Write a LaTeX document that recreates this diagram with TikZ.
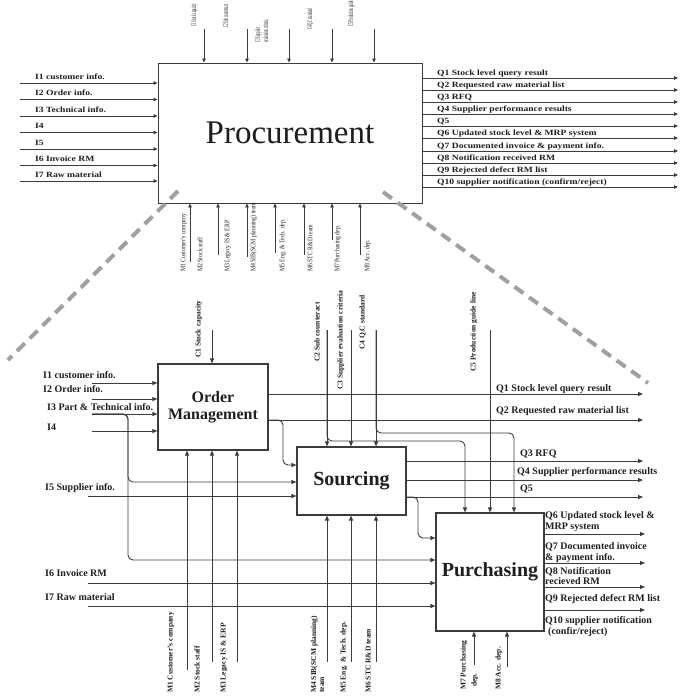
\documentclass[tikz,border=0pt]{standalone}
\usepackage{fontspec}
\setmainfont{Liberation Serif}
\newfontfamily\wideserif[FakeStretch=1.2]{Liberation Serif}
\newfontfamily\narrowserif[FakeStretch=0.42]{Liberation Serif}
\newfontfamily\slimserif[FakeStretch=0.83]{Liberation Serif}
\usetikzlibrary{arrows.meta,calc}
\definecolor{lc}{HTML}{3C3C3C}
\definecolor{tc}{HTML}{1E1E1E}
\definecolor{dg}{HTML}{A0A0A0}
\tikzset{
  ln/.style={draw=lc, line width=0.9pt},
  arr/.style={ln, -{Triangle[length=5pt,width=4pt]}},
  tarr/.style={draw=lc, line width=0.8pt, -{Triangle[length=4pt,width=3.5pt]}},
  bendarr/.style={arr, rounded corners=5pt},
  procbox/.style={draw=lc, line width=0.9pt, minimum width=264pt, minimum height=140pt, inner sep=0pt, text=tc, font=\fontsize{33}{36}\selectfont},
  subbox/.style={draw=lc, line width=1.1pt, inner sep=0pt, text=tc, align=center},
  tlab/.style={anchor=base west, inner sep=0pt, text=tc, font=\wideserif\bfseries\fontsize{8}{9}\selectfont},
  tctl/.style={rotate=90, anchor=base west, inner sep=0pt, text=tc, font=\narrowserif\fontsize{7.5}{8}\selectfont},
  tmech/.style={rotate=90, anchor=base west, inner sep=0pt, text=tc, font=\slimserif\fontsize{7}{8}\selectfont},
  lab/.style={anchor=base west, inner sep=0pt, text=tc, font=\bfseries\fontsize{10}{11}\selectfont},
  vlab/.style={rotate=90, anchor=base west, inner sep=0pt, text=tc, font=\bfseries\fontsize{7.5}{8}\selectfont},
  dashline/.style={draw=dg, line width=4pt, dash pattern=on 11pt off 7pt},
}
\begin{document}
\begin{tikzpicture}[x=1pt,y=-1pt]
\path[use as bounding box] (0,0) rectangle (680,697);

% ---------------- Context level: Procurement ----------------
\node[procbox] (proc) at (290,133) {Procurement};

% inputs
\foreach \y/\t [count=\i] in {83/{I1 customer info.},99.5/{I2 Order info.},116/{I3 Technical info.},132.5/{I4},149/{I5},165.5/{I6 Invoice RM},181/{I7 Raw material}} {
  \coordinate (tin\i) at (20,\y);
  \draw[tarr] (tin\i) -- (tin\i -| proc.west);
  \node[tlab] (tinl\i) at (35,\y-4) {\t};
}

% outputs
\foreach \y/\t [count=\i] in {78/{Q1 Stock level query result},90/{Q2 Requested raw material list},102/{Q3 RFQ},114/{Q4 Supplier performance results},126/{Q5},138/{Q6 Updated stock level \& MRP system},151/{Q7 Documented invoice \& payment info.},163/{Q8 Notification received RM},175/{Q9 Rejected defect RM list},187/{Q10 supplier notification (confirm/reject)}} {
  \coordinate (tq\i) at (678,\y);
  \draw[tarr] (tq\i -| proc.east) -- (tq\i);
  \node[tlab] (tql\i) at (437,\y-3) {\t};
}

% controls
\foreach \x [count=\i] in {204,247,289,332,374} {
  \coordinate (tc\i) at (\x,29);
  \draw[tarr] (tc\i) -- (tc\i |- proc.north);
}
\node[tctl] (tcl1) at (196,27) {C1 Stock capacity};
\node[tctl] (tcl2) at (228,28) {C2 Sub counteract};
\node[tctl] (tcl3a) at (260,43) {C3 Supplier};
\node[tctl] (tcl3b) at (268,43) {evaluation criteria};
\node[tctl] (tcl4) at (312,30) {C4 Q.C standard};
\node[tctl] (tcl5) at (353,27) {C5 Production guide};

% mechanisms
\foreach \x/\yb [count=\i] in {190/262,218/255,247/257,275/253,304/255,332/240,360/255} {
  \coordinate (tm\i) at (\x,\yb);
  \draw[tarr] (tm\i) -- (tm\i |- proc.south);
}
\foreach \x/\t [count=\i] in {185.3/{M1 Customer's company},202.3/{M2 Stock staff},229.3/{M3 Legacy IS \& ERP},255.3/{M4 SIB(SCM planning) team},284.3/{M5 Eng. \& Tech. dep.},312.3/{M6 STC R\&D team},339.3/{M7 Purchasing dep.},369.3/{M8 Acc. dep.}} {
  \node[tmech] (tml\i) at (\x,272) {\t};
}

% ---------------- Decomposition ----------------
\node[subbox, minimum width=110pt, minimum height=86pt, font=\bfseries\fontsize{16}{17}\selectfont] (om) at (213,407) {Order\\Management};
\node[subbox, minimum width=109pt, minimum height=68pt, font=\bfseries\fontsize{20}{22}\selectfont] (src) at (351.5,481) {Sourcing};
\node[subbox, minimum width=108pt, minimum height=118pt, font=\bfseries\fontsize{20}{22}\selectfont] (pur) at (490,572) {Purchasing};

% controls
\coordinate (c1) at (212,330);
\coordinate (c2) at (327,330);
\coordinate (c3) at (351,330);
\coordinate (c4) at (376,330);
\coordinate (c5) at (490,330);
\coordinate (c2b) at (465,441);
\coordinate (c4b) at (514,433);
\draw[arr] (c1) -- (c1 |- om.north);
\draw[arr] (c2) -- (c2 |- src.north);
\draw[arr] (c3) -- (c3 |- src.north);
\draw[arr] (c4) -- (c4 |- src.north);
\draw[arr] (c5) -- (c5 |- pur.north);
\draw[bendarr] (c2) |- (c2b) -- (c2b |- pur.north);
\draw[bendarr] (c4) |- (c4b) -- (c4b |- pur.north);
\node[vlab] (cl1) at (200.5,358) {C1 Stock capacity};
\node[vlab] (cl2) at (319.5,362) {C2 Sub counteract};
\node[vlab] (cl3) at (342.5,390) {C3 Supplier evaluation criteria};
\node[vlab] (cl4) at (364.5,350) {C4 Q.C standard};
\node[vlab] (cl5) at (475.5,372) {C5 Production guide line};

% inputs
\coordinate (oi1) at (92,383);
\coordinate (oi2) at (92,399);
\coordinate (oi3) at (92,414);
\coordinate (oi4) at (92,431);
\coordinate (i5) at (88,496);
\coordinate (i6) at (88,583);
\coordinate (i7) at (88,606);
\coordinate (i3s) at (128,482);
\coordinate (i3p) at (128,560);
\foreach \i in {1,...,4} { \draw[arr] (oi\i) -- (oi\i -| om.west); }
\draw[bendarr] (oi3) -| (i3p) -- (i3p -| pur.west);
\draw[bendarr] (oi3) -| (i3s) -- (i3s -| src.west);
\draw[arr] (i5) -- (i5 -| src.west);
\draw[arr] (i6) -- (i6 -| pur.west);
\draw[arr] (i7) -- (i7 -| pur.west);
\node[lab] (il1) at (43,378) {I1 customer info.};
\node[lab] (il2) at (43,392) {I2 Order info.};
\node[lab] (il3) at (47,410) {I3 Part \& Technical info.};
\node[lab] (il4) at (47,430) {I4};
\node[lab] (il5) at (45,490) {I5 Supplier info.};
\node[lab] (il6) at (45,576) {I6 Invoice RM};
\node[lab] (il7) at (45,600) {I7 Raw material};

% outputs of Order Management and Sourcing
\coordinate (oq1) at (643,394);
\coordinate (oq2) at (643,420);
\coordinate (oq3) at (643,461);
\coordinate (oq4) at (643,480);
\coordinate (oq5) at (643,497);
\coordinate (q2s) at (283,465);
\coordinate (q5p) at (418,538);
\draw[arr] (oq1 -| om.east) -- (oq1);
\draw[arr] (oq2 -| om.east) -- (oq2);
\draw[bendarr] (oq2 -| om.east) -| (q2s) -- (q2s -| src.west);
\draw[arr] (oq3 -| src.east) -- (oq3);
\draw[arr] (oq4 -| src.east) -- (oq4);
\draw[arr] (oq5 -| src.east) -- (oq5);
\draw[bendarr] (oq5 -| src.east) -| (q5p) -- (q5p -| pur.west);
\node[lab] (ql1) at (496,391) {Q1 Stock level query result};
\node[lab] (ql2) at (496,413) {Q2 Requested raw material list};
\node[lab] (ql3) at (520,456) {Q3 RFQ};
\node[lab] (ql4) at (517,474) {Q4 Supplier performance results};
\node[lab] (ql5) at (520,491) {Q5};

% outputs of Purchasing
\coordinate (pq6) at (645,534);
\coordinate (pq7) at (645,563);
\coordinate (pq8) at (645,587);
\coordinate (pq9) at (645,610);
\foreach \i in {6,...,9} { \draw[arr] (pq\i -| pur.east) -- (pq\i); }
\node[lab] (ql6a) at (545,518) {Q6 Updated stock level \&};
\node[lab] (ql6b) at (545,529) {MRP system};
\node[lab] (ql7a) at (545,549) {Q7 Documented invoice};
\node[lab] (ql7b) at (545,560) {\& payment info.};
\node[lab] (ql8a) at (545,574) {Q8 Notification};
\node[lab] (ql8b) at (545,584) {recieved RM};
\node[lab] (ql9) at (545,601) {Q9 Rejected defect RM list};
\node[lab] (ql10a) at (545,623) {Q10 supplier notification};
\node[lab] (ql10b) at (548,634) {(confir/reject)};

% mechanisms
\coordinate (m1) at (187,670);
\coordinate (m2) at (212,662);
\coordinate (m3) at (237,662);
\coordinate (m4) at (327,662);
\coordinate (m5) at (351,662);
\coordinate (m6) at (376,662);
\coordinate (m7) at (474,665);
\coordinate (m8) at (507,667);
\foreach \i in {1,2,3} { \draw[arr] (m\i) -- (m\i |- om.south); }
\foreach \i in {4,5,6} { \draw[arr] (m\i) -- (m\i |- src.south); }
\foreach \i in {7,8} { \draw[arr] (m\i) -- (m\i |- pur.south); }
\node[vlab] (ml1) at (172.5,693) {M1 Customer's company};
\node[vlab] (ml2) at (199.5,693) {M2 Stock staff};
\node[vlab] (ml3) at (225.5,693) {M3 Legacy IS \& ERP};
\node[vlab] (ml4a) at (316,693) {M4 SIB(SCM planning)};
\node[vlab] (ml4b) at (324,693) {team};
\node[vlab] (ml5) at (345.5,693) {M5 Eng. \& Tech. dep.};
\node[vlab] (ml6) at (370.5,693) {M6 STC R\&D team};
\node[vlab] (ml7a) at (465.5,690) {M7 Purchasing};
\node[vlab] (ml7b) at (476.5,687) {dep.};
\node[vlab] (ml8) at (500.5,690) {M8 Acc. dep.};

% zoom guides
\coordinate (dl1) at (178,191);
\coordinate (dl2) at (8,360);
\coordinate (dr1) at (383,192);
\coordinate (dr2) at (648,383);
\draw[dashline] (dl1) -- (dl2);
\draw[dashline] (dr1) -- (dr2);
\end{tikzpicture}
\end{document}
